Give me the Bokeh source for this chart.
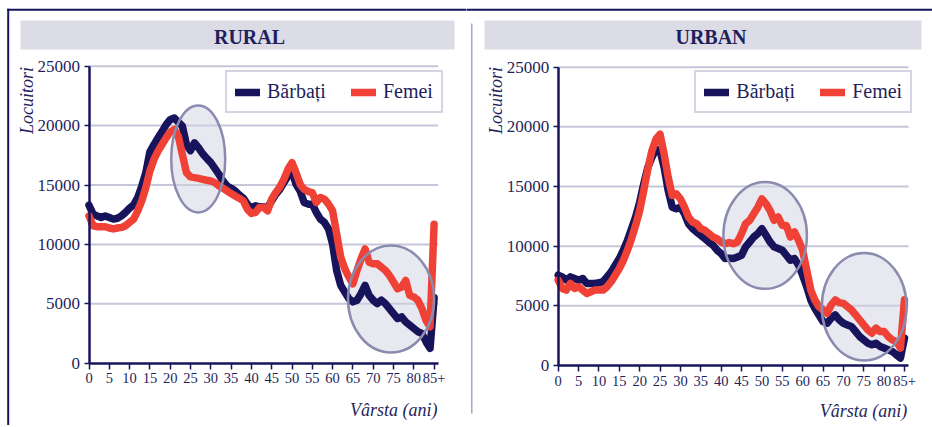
from math import pi
from bokeh.plotting import figure
from bokeh.models import (Range1d, FixedTicker, Legend, LegendItem, Label,
                          BoxAnnotation, ColumnDataSource, LinearAxis)
from bokeh.layouts import row
from bokeh.embed import file_html
from bokeh.resources import INLINE

# ---------------- data ----------------
ages = list(range(86))
x_ticks = list(range(0, 86, 5))
x_tick_labels = {85: "85+"}
y_ticks = [0, 5000, 10000, 15000, 20000, 25000]
series_names = ["Bărbați", "Femei"]
panel_titles = ["RURAL", "URBAN"]
y_label = "Locuitori"
x_label = "Vârsta (ani)"

rural_barbati = [
    13300, 12550, 12400, 12270, 12400, 12270, 12130, 12200, 12400, 12700,
    13050, 13330, 13950, 14900, 16040, 17800, 18400, 18970, 19500, 20080,
    20500, 20640, 20300, 19950, 18400, 17900, 18550, 18130, 17630, 17240,
    16880, 16400, 15900, 15340, 14920, 14730, 14500, 14170, 13890, 13390,
    13050, 13250, 13160, 13150, 13110, 13670, 14220, 14640, 15200, 15760,
    16180, 15060, 14500, 13530, 13390, 13390, 12690, 12130, 11850, 11300,
    10040, 7800, 6550, 6000, 5440, 5160, 5300, 5850, 6550, 5710,
    5300, 5020, 5300, 5020, 4600, 4180, 3760, 3900, 3480, 3200,
    2930, 2650, 2510, 1810, 1250, 5500]
rural_femei = [
    12400, 11570, 11490, 11490, 11490, 11380, 11300, 11380, 11430, 11570,
    11850, 12130, 12830, 13670, 14780, 16180, 17150, 17850, 18410, 18970,
    19470, 19670, 19100, 17570, 16040, 15680, 15620, 15560, 15480, 15400,
    15340, 15200, 14920, 14730, 14500, 14280, 14080, 13890, 13670, 12970,
    12600, 12700, 13110, 13110, 12830, 13810, 14360, 14840, 15480, 16320,
    16880, 16040, 15060, 14640, 14450, 14360, 13530, 13950, 13810, 13390,
    12830, 10880, 8920, 7950, 7250, 6690, 7810, 8780, 9620, 8500,
    8370, 8370, 8090, 7810, 7390, 6830, 6270, 6410, 6970, 5710,
    5570, 5300, 4600, 3620, 3060, 11700]
urban_barbati = [
    7570, 7430, 7150, 7430, 7290, 7150, 7290, 6880, 6880, 6880,
    6930, 7020, 7430, 7850, 8410, 8960, 9660, 10490, 11470, 12440,
    13690, 15220, 16610, 17440, 18140, 18000, 16600, 14660, 13270, 13130,
    13270, 12720, 11880, 11470, 11190, 10910, 10630, 10350, 10080, 9660,
    9380, 8960, 9000, 8960, 9100, 9240, 9940, 10350, 10770, 11050,
    11470, 10910, 10350, 9940, 9800, 9660, 9240, 8820, 8960, 8410,
    7570, 6600, 5490, 4790, 4240, 3680, 3540, 3960, 4240, 3820,
    3540, 3400, 3260, 2850, 2430, 2150, 1870, 1740, 1870, 1600,
    1460, 1320, 1180, 900, 620, 2300]
urban_femei = [
    7150, 6460, 6320, 6880, 6460, 6600, 6320, 6040, 6180, 6320,
    6320, 6320, 6600, 7020, 7570, 8130, 8820, 9660, 10630, 11740,
    12990, 14660, 16470, 18000, 18970, 19390, 17720, 15770, 14250, 14380,
    13970, 13270, 12440, 12020, 11880, 11470, 11330, 11050, 10770, 10630,
    10350, 10210, 10300, 10210, 10350, 11050, 11880, 12160, 12720, 13270,
    13970, 13550, 12990, 12160, 12440, 11740, 11740, 10770, 11190, 10490,
    9660, 7990, 6320, 5490, 4930, 4650, 4380, 5070, 5490, 5270,
    5210, 4930, 4650, 4240, 3820, 3400, 2990, 2710, 3130, 2850,
    2850, 2430, 2150, 2010, 1460, 5500]

# highlighted regions (center age, center value, width in years, height in persons)
rural_highlights = [(26.9, 17190, 13.3, 9000), (74.4, 5400, 21.2, 9000)]
urban_highlights = [(50.8, 10900, 20.5, 8950), (75.1, 4920, 20.8, 9000)]

# ---------------- style ----------------
NAVY = "#17145c"
RED = "#ef4135"
TXT = "#1f1f5c"
GRID = "#c6c6da"
BAR = "#dcdce6"
ELL_FILL = "#d2d2e4"
ELL_LINE = "#8b8bb0"
SEP = "#a6a6c8"
FONT = "Liberation Serif"
H = 425
X_END = 86


def make_panel(title, m_vals, f_vals, highlights, g):
    off, W = g["off"], g["W"]
    x0, sx, y0, sy = g["x0"], g["sx"], g["y0"], g["sy"]

    def ax(px):  # page pixel -> age
        return (px - x0) / sx

    def vy(py):  # page pixel -> persons
        return (y0 - py) / sy

    p = figure(width=W, height=H, x_range=Range1d(ax(off), ax(off + W)),
               y_range=Range1d(vy(H), vy(0)), output_backend="svg",
               toolbar_location=None, x_axis_location=None, y_axis_location=None,
               min_border=0, min_border_left=0, min_border_right=0,
               min_border_top=0, min_border_bottom=0)
    p.outline_line_color = None
    p.background_fill_color = "white"
    p.border_fill_color = "white"
    p.xgrid.visible = False
    p.ygrid.visible = False

    xaxis = LinearAxis(fixed_location=0, bounds=(0, X_END),
                       ticker=FixedTicker(ticks=x_ticks),
                       major_label_overrides=x_tick_labels)
    yaxis = LinearAxis(fixed_location=0, bounds=(0, y_ticks[-1]),
                       ticker=FixedTicker(ticks=y_ticks))
    for a in (xaxis, yaxis):
        a.axis_line_color = NAVY
        a.axis_line_width = 2.5
        a.major_tick_line_color = NAVY
        a.major_tick_line_width = 1.5
        a.major_tick_in = 0
        a.major_tick_out = 6
        a.minor_tick_line_color = None
        a.major_label_text_font = FONT
        a.major_label_text_color = TXT
    xaxis.major_label_text_font_size = "14.5px"
    yaxis.major_label_text_font_size = "17px"
    xaxis.major_label_standoff = 4
    yaxis.major_label_standoff = 4
    yaxis.major_tick_out = 5

    # outer frame, separator and title bar
    for (l, r, t, b, c) in g["rules"]:
        p.add_layout(BoxAnnotation(left=ax(l), right=ax(r), top=vy(t), bottom=vy(b),
                                   fill_color=c, fill_alpha=1, line_color=None))
    bl, br, bt, bb = g["bar"]
    p.add_layout(BoxAnnotation(left=ax(bl), right=ax(br), top=vy(bt), bottom=vy(bb),
                               fill_color=BAR, fill_alpha=1, line_color=None))

    # horizontal grid lines at the y ticks
    gy = y_ticks[1:]
    p.segment(x0=[0] * len(gy), y0=gy, x1=[X_END] * len(gy), y1=gy,
              line_color=GRID, line_width=2)

    hs = ColumnDataSource(dict(x=[h[0] for h in highlights], y=[h[1] for h in highlights],
                               w=[h[2] for h in highlights], h=[h[3] for h in highlights]))
    p.ellipse(x="x", y="y", width="w", height="h", source=hs,
              fill_color=ELL_FILL, fill_alpha=0.5, line_color=None)

    src = ColumnDataSource(dict(age=ages, m=m_vals, f=f_vals))
    rm = p.line("age", "m", source=src, line_color=NAVY, line_width=7.5,
                line_join="round", line_cap="round")
    rf = p.line("age", "f", source=src, line_color=RED, line_width=7.5,
                line_join="round", line_cap="round")

    p.ellipse(x="x", y="y", width="w", height="h", source=hs,
              fill_color=None, line_color=ELL_LINE, line_width=2.5)

    p.add_layout(xaxis, "below")
    p.add_layout(yaxis, "left")

    lx, ly = g["legend"]
    legend = Legend(items=[LegendItem(label=series_names[0], renderers=[rm]),
                           LegendItem(label=series_names[1], renderers=[rf])],
                    orientation="horizontal", location=(lx - off, H - ly),
                    border_line_color="#a9a9c6", border_line_width=2,
                    background_fill_color="white", background_fill_alpha=1,
                    label_text_font=FONT, label_text_font_size="20px",
                    label_text_color=TXT, glyph_width=25, glyph_height=20,
                    label_height=20, label_standoff=7, spacing=25,
                    padding=8, margin=0)
    p.add_layout(legend)

    tx, ty = g["title"]
    p.add_layout(Label(x=ax(tx), y=vy(ty), text=title,
                       text_align="center", text_baseline="middle",
                       text_font=FONT, text_font_style="bold",
                       text_font_size="20px", text_color=TXT))
    yx, yy = g["ylab"]
    p.add_layout(Label(x=ax(yx), y=vy(yy), text=y_label,
                       angle=pi / 2, text_align="center", text_baseline="middle",
                       text_font=FONT, text_font_style="italic",
                       text_font_size="18px", text_color=TXT))
    xx, xy = g["xlab"]
    p.add_layout(Label(x=ax(xx), y=vy(xy), text=x_label,
                       text_align="right", text_baseline="middle",
                       text_font=FONT, text_font_style="italic",
                       text_font_size="18px", text_color=TXT))
    return p


left_geo = dict(off=0, W=466, x0=88.5, sx=4.06, y0=362.7, sy=297 / 25000,
                bar=(20, 454, 20, 49), title=(249, 36.5), ylab=(26, 100),
                xlab=(437, 409.5), legend=(225, 113),
                rules=[(6.7, 8.7, 8.3, 440, NAVY), (6.7, 480, 8.3, 10.3, NAVY)])
right_geo = dict(off=466, W=466, x0=557.7, sx=4.074, y0=365, sy=298.3 / 25000,
                 bar=(484, 921, 20, 49), title=(710.5, 36.5), ylab=(495, 100),
                 xlab=(906.7, 410), legend=(694.3, 113),
                 rules=[(460, 940, 8.3, 10.3, NAVY), (470.5, 472, 23, 413, SEP)])

p1 = make_panel(panel_titles[0], rural_barbati, rural_femei, rural_highlights, left_geo)
p2 = make_panel(panel_titles[1], urban_barbati, urban_femei, urban_highlights, right_geo)

layout = row(p1, p2)
open("out.html", "w").write(file_html(layout, INLINE))
